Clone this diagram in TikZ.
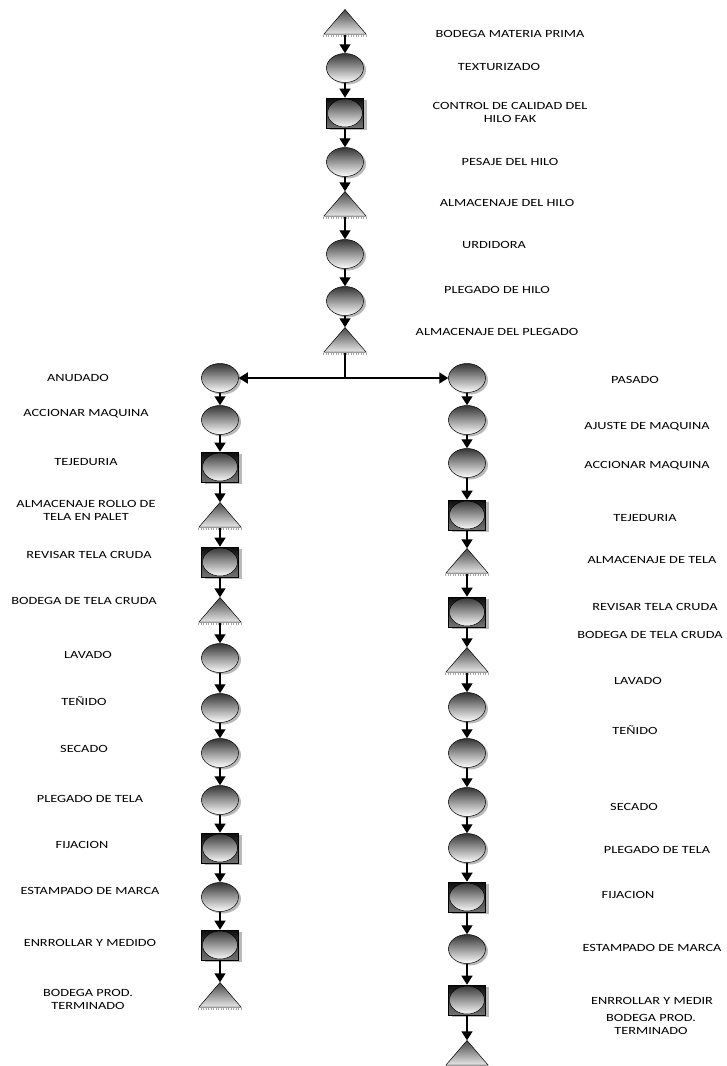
\documentclass[tikz,border=0pt]{standalone}
\usepackage{fontspec}
\newfontfamily\labfont[FakeStretch=1.3]{Carlito}
\usetikzlibrary{shapes.geometric,shadows,arrows.meta}
\tikzset{
  op/.style={ellipse, draw=black, line width=0.5pt, minimum width=37pt, minimum height=29pt, inner sep=0pt,
    top color=black!80, bottom color=white,
    drop shadow={shadow xshift=2.5pt, shadow yshift=-2pt, fill=gray!55, opacity=1}},
  insp/.style={rectangle, draw=black, line width=0.6pt, minimum width=37pt, minimum height=30pt, inner sep=0pt,
    top color=black!95, bottom color=black!55,
    drop shadow={shadow xshift=3pt, shadow yshift=-2pt, fill=gray!55, opacity=1},
    path picture={
      \shade[top color=black!80, bottom color=white] (path picture bounding box.center) ellipse [x radius=17.5pt, y radius=14pt];
      \draw[line width=0.5pt] (path picture bounding box.center) ellipse [x radius=17.5pt, y radius=14pt];
    }},
  stor/.style={rectangle, draw=none, minimum width=43pt, minimum height=25pt, inner sep=0pt,
    path picture={
      \shade[top color=black!72, bottom color=black!8]
        (path picture bounding box.south west) -- (path picture bounding box.north) -- (path picture bounding box.south east) -- cycle;
      \draw[line width=0.5pt] ([xshift=0.3pt,yshift=0.3pt]path picture bounding box.south west) -- (path picture bounding box.north) -- ([xshift=-0.3pt,yshift=0.3pt]path picture bounding box.south east) -- cycle;
    }},
  flow/.style={line width=1.4pt, -{Triangle[width=11pt,length=9pt]}},
  lab/.style={font=\labfont\fontsize{11}{13}\selectfont, align=center, inner sep=0pt},
}
\begin{document}
\begin{tikzpicture}[x=1pt,y=-1pt]
\useasboundingbox (0,0) rectangle (727,1066);
% top column
\node[stor] (T1) at (345,22) {};
\node[op]   (T2) at (345,68) {};
\node[insp] (T3) at (345,113) {};
\node[op]   (T4) at (345,162) {};
\node[stor] (T5) at (345,204) {};
\node[op]   (T6) at (345,254) {};
\node[op]   (T7) at (345,301) {};
\node[stor] (T8) at (345,340) {};
\coordinate (J) at (345,378);
% left column
\node[op]   (L1) at (220,378) {};
\node[op]   (L2) at (220,420) {};
\node[insp] (L3) at (220,467) {};
\node[stor] (L4) at (220,515) {};
\node[insp] (L5) at (220,562) {};
\node[stor] (L6) at (220,610) {};
\node[op]   (L7) at (220,658) {};
\node[op]   (L8) at (220,708) {};
\node[op]   (L9) at (220,753) {};
\node[op]   (L10) at (220,800) {};
\node[insp] (L11) at (220,848) {};
\node[op]   (L12) at (220,897) {};
\node[insp] (L13) at (220,945) {};
\node[stor] (L14) at (220,995) {};
% right column
\node[op]   (R1) at (467,378) {};
\node[op]   (R2) at (467,420) {};
\node[op]   (R3) at (467,463) {};
\node[insp] (R4) at (467,515) {};
\node[stor] (R5) at (467,561) {};
\node[insp] (R6) at (467,612) {};
\node[stor] (R7) at (467,660) {};
\node[op]   (R8) at (467,707) {};
\node[op]   (R9) at (467,753) {};
\node[op]   (R10) at (467,802) {};
\node[op]   (R11) at (467,848) {};
\node[insp] (R12) at (467,897) {};
\node[op]   (R13) at (467,949) {};
\node[insp] (R14) at (467,1000) {};
\node[stor] (R15) at (467,1053) {};
% triangle base shadows
\foreach \t in {T1,T5,T8,L4,L6,L14,R5,R7,R15}{
  \draw[gray!70, line width=1.2pt, dash pattern=on 1pt off 1.5pt] ([yshift=-1.2pt]\t.south west) -- ([yshift=-1.2pt]\t.south east);
}
% connectors
\foreach \a/\b in {T1/T2,T2/T3,T3/T4,T4/T5,T5/T6,T6/T7,T7/T8,
  L1/L2,L2/L3,L3/L4,L4/L5,L5/L6,L6/L7,L7/L8,L8/L9,L9/L10,L10/L11,L11/L12,L12/L13,L13/L14,
  R1/R2,R2/R3,R3/R4,R4/R5,R5/R6,R6/R7,R7/R8,R8/R9,R9/R10,R10/R11,R11/R12,R12/R13,R13/R14,R14/R15}{
  \draw[flow] (\a.south) -- (\b.north);
}
\draw[line width=1.4pt] (T8.south) -- (J);
\draw[flow] (J) -- (L1.east);
\draw[flow] (J) -- (R1.west);
% labels top
\node[lab] (tl1) at (510,34) {BODEGA MATERIA PRIMA};
\node[lab] (tl2) at (499,67) {TEXTURIZADO};
\node[lab] (tl3) at (510,112) {CONTROL DE CALIDAD DEL\\HILO FAK};
\node[lab] (tl4) at (510,162) {PESAJE DEL HILO};
\node[lab] (tl5) at (507,203) {ALMACENAJE DEL HILO};
\node[lab] (tl6) at (494,245) {URDIDORA};
\node[lab] (tl7) at (497,290) {PLEGADO DE HILO};
\node[lab] (tl8) at (497,332) {ALMACENAJE DEL PLEGADO};
% labels left
\node[lab] (ll1) at (78,378) {ANUDADO};
\node[lab] (ll2) at (86,414) {ACCIONAR MAQUINA};
\node[lab] (ll3) at (86,462) {TEJEDURIA};
\node[lab] (ll4) at (86,510) {ALMACENAJE ROLLO DE\\TELA EN PALET};
\node[lab] (ll5) at (89,555) {REVISAR TELA CRUDA};
\node[lab] (ll6) at (84,601) {BODEGA DE TELA CRUDA};
\node[lab] (ll7) at (88,655) {LAVADO};
\node[lab] (ll8) at (84,701) {TEÑIDO};
\node[lab] (ll9) at (84,749) {SECADO};
\node[lab] (ll10) at (90,799) {PLEGADO DE TELA};
\node[lab] (ll11) at (82,845) {FIJACION};
\node[lab] (ll12) at (90,891) {ESTAMPADO DE MARCA};
\node[lab] (ll13) at (90,943) {ENRROLLAR Y MEDIDO};
\node[lab] (ll14) at (88,999) {BODEGA PROD.\\TERMINADO};
% labels right
\node[lab] (rl1) at (635,380) {PASADO};
\node[lab] (rl2) at (647,427) {AJUSTE DE MAQUINA};
\node[lab] (rl3) at (647,466) {ACCIONAR MAQUINA};
\node[lab] (rl4) at (645,518) {TEJEDURIA};
\node[lab] (rl5) at (652,560) {ALMACENAJE DE TELA};
\node[lab] (rl6) at (655,607) {REVISAR TELA CRUDA};
\node[lab] (rl7) at (650,635) {BODEGA DE TELA CRUDA};
\node[lab] (rl8) at (638,681) {LAVADO};
\node[lab] (rl9) at (635,730) {TEÑIDO};
\node[lab] (rl10) at (634,807) {SECADO};
\node[lab] (rl11) at (657,850) {PLEGADO DE TELA};
\node[lab] (rl12) at (628,895) {FIJACION};
\node[lab] (rl13) at (652,948) {ESTAMPADO DE MARCA};
\node[lab] (rl14) at (652,1001) {ENRROLLAR Y MEDIR};
\node[lab] (rl15) at (651,1024) {BODEGA PROD.\\TERMINADO};
\end{tikzpicture}
\end{document}
